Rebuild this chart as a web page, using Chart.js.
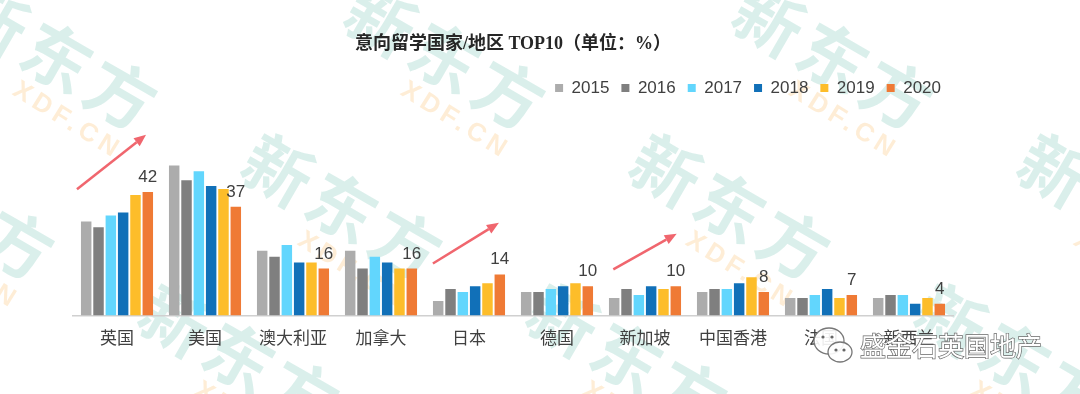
<!DOCTYPE html>
<html><head><meta charset="utf-8">
<script src="https://cdn.jsdelivr.net/npm/chart.js@4.4.1/dist/chart.umd.min.js"></script>
<style>html,body{margin:0;padding:0;background:#fff;overflow:hidden}#wrap{width:1080px;height:394px;position:relative}</style>
</head><body><div id="wrap"><canvas id="c" width="1080" height="394"></canvas></div>
<script>
// ---- data ----
const categories = ['英国','美国','澳大利亚','加拿大','日本','德国','新加坡','中国香港','法国','新西兰'];
const years = ['2015','2016','2017','2018','2019','2020'];
const v2015 = [32,51,22,22,5,8,6,8,6,6];
const v2016 = [30,46,20,16,9,8,9,9,6,7];
const v2017 = [34,49,24,20,8,9,7,9,7,7];
const v2018 = [35,44,18,18,10,10,10,11,9,4];
const v2019 = [41,43,18,16,11,11,9,13,6,6];
const v2020 = [42,37,16,16,14,10,10,8,7,4];
const titleText = '意向留学国家/地区 TOP10（单位：%）';
// annotation arrows: [category position, value] start -> end
const arrowFrom = [[-0.455, 42.9], [3.59, 17.7], [5.64, 15.7]];
const arrowTo   = [[0.33, 61.4], [4.34, 31.5], [6.36, 27.8]];

// ---- styles ----
const colors = ['#acacac','#7f7f7f','#62d6fd','#1170b8','#fdbd2a','#ef7a35'];
const SANS = '"Liberation Sans", "Noto Sans CJK SC", sans-serif';
Chart.defaults.font.family = SANS;

const series = [v2015, v2016, v2017, v2018, v2019, v2020];

const watermark = {
  id: 'watermark',
  beforeDraw(chart) {
    const ctx = chart.ctx;
    ctx.save();
    ctx.fillStyle = '#fff';
    ctx.fillRect(0, 0, chart.width, chart.height);
    const rows = [[-7, 20], [278, 170], [175, 320]];
    rows.forEach(([x0, y]) => {
      for (let k = -1; k < 4; k++) {
        const ox = x0 + 388 * k, oy = y;
        ctx.save();
        ctx.translate(ox, oy);
        ctx.rotate(30 * Math.PI / 180);
        ctx.font = 'bold 68px "Noto Sans CJK SC"';
        ctx.fillStyle = 'rgba(120,196,180,0.27)';
        ctx.textBaseline = 'middle';
        ctx.textAlign = 'left';
        ctx.letterSpacing = '6px';
        ctx.fillText('新东方', -34, 0);
        ctx.restore();
        ctx.save();
        ctx.translate(ox + 22, oy + 68);
        ctx.rotate(32 * Math.PI / 180);
        ctx.font = 'bold 26px "Liberation Sans"';
        ctx.fillStyle = 'rgba(250,175,70,0.22)';
        ctx.textBaseline = 'middle';
        ctx.letterSpacing = '5px';
        ctx.fillText('XDF.CN', 0, 0);
        ctx.restore();
      }
    });
    ctx.restore();
  },
  afterDraw(chart) {
    const ctx = chart.ctx;
    // arrows
    const xs = chart.scales.x, ys = chart.scales.y;
    ctx.save();
    ctx.strokeStyle = '#f0666e';
    ctx.fillStyle = '#f0666e';
    ctx.lineWidth = 2.5;
    arrowFrom.forEach((f, i) => {
      const t = arrowTo[i];
      const x1 = xs.getPixelForValue(f[0]), y1 = ys.getPixelForValue(f[1]);
      const x2 = xs.getPixelForValue(t[0]), y2 = ys.getPixelForValue(t[1]);
      const ang = Math.atan2(y2 - y1, x2 - x1);
      const hl = 12, hw = 5;
      const bx = x2 - hl * Math.cos(ang), by = y2 - hl * Math.sin(ang);
      ctx.beginPath(); ctx.moveTo(x1, y1); ctx.lineTo(bx, by); ctx.stroke();
      ctx.beginPath();
      ctx.moveTo(x2, y2);
      ctx.lineTo(bx + hw * Math.sin(ang), by - hw * Math.cos(ang));
      ctx.lineTo(bx - hw * Math.sin(ang), by + hw * Math.cos(ang));
      ctx.closePath(); ctx.fill();
    });
    ctx.restore();

    // WeChat overlay
    ctx.save();
    ctx.lineWidth = 1.3;
    ctx.strokeStyle = '#777';
    ctx.fillStyle = 'rgba(255,255,255,0.9)';
    ctx.beginPath(); ctx.ellipse(829, 341, 15, 13, 0, 0, Math.PI * 2); ctx.fill(); ctx.stroke();
    ctx.beginPath(); ctx.ellipse(840, 352, 12, 10, 0, 0, Math.PI * 2); ctx.fill(); ctx.stroke();
    ctx.fillStyle = '#666';
    [[823,337],[832,337],[836,350],[844,350]].forEach(([x,y])=>{ctx.beginPath();ctx.arc(x,y,1.6,0,Math.PI*2);ctx.fill();});
    ctx.font = '26px "Noto Sans CJK SC"';
    ctx.textBaseline = 'middle';
    ctx.textAlign = 'left';
    ctx.lineWidth = 1.4;
    ctx.strokeStyle = '#6a6a6a';
    ctx.strokeText('盛金石英国地产', 860, 346);
    ctx.fillStyle = '#ffffff';
    ctx.fillText('盛金石英国地产', 860, 346);
    ctx.restore();
  }
};

const valueLabels = {
  id: 'valueLabels',
  afterDatasetsDraw(chart) {
    const ctx = chart.ctx;
    const meta = chart.getDatasetMeta(5);
    ctx.save();
    ctx.font = '17px ' + SANS;
    ctx.fillStyle = '#404040';
    ctx.textAlign = 'center';
    ctx.textBaseline = 'alphabetic';
    meta.data.forEach((bar, i) => ctx.fillText(String(v2020[i]), bar.x, bar.y - 10));
    ctx.restore();
  }
};

new Chart(document.getElementById('c'), {
  type: 'bar',
  data: {
    labels: categories,
    datasets: years.map((y, i) => ({
      label: y,
      data: series[i],
      backgroundColor: colors[i],
      borderWidth: 0,
      categoryPercentage: 0.84,
      barPercentage: 0.85
    }))
  },
  options: {
    responsive: false,
    animation: false,
    devicePixelRatio: 1,
    layout: { padding: { left: 73, right: 127, top: 0, bottom: 30 } },
    plugins: {
      title: {
        display: true,
        text: titleText,
        color: '#262626',
        font: { family: '"Liberation Serif", "Noto Sans CJK SC", serif', size: 18, weight: 'bold' },
        padding: { top: 34, bottom: 12 }
      },
      legend: {
        position: 'top',
        align: 'end',
        labels: { boxWidth: 8, boxHeight: 8, color: '#404040', font: { size: 17 }, padding: 12 }
      },
      tooltip: { enabled: false }
    },
    scales: {
      x: {
        grid: { display: false, drawTicks: false },
        border: { display: true, color: '#d0d0d0', width: 1.5 },
        ticks: { color: '#404040', font: { size: 17 }, padding: 14 }
      },
      y: { display: false, min: 0, max: 71 }
    }
  },
  plugins: [valueLabels, watermark]
});
</script>
</body></html>
